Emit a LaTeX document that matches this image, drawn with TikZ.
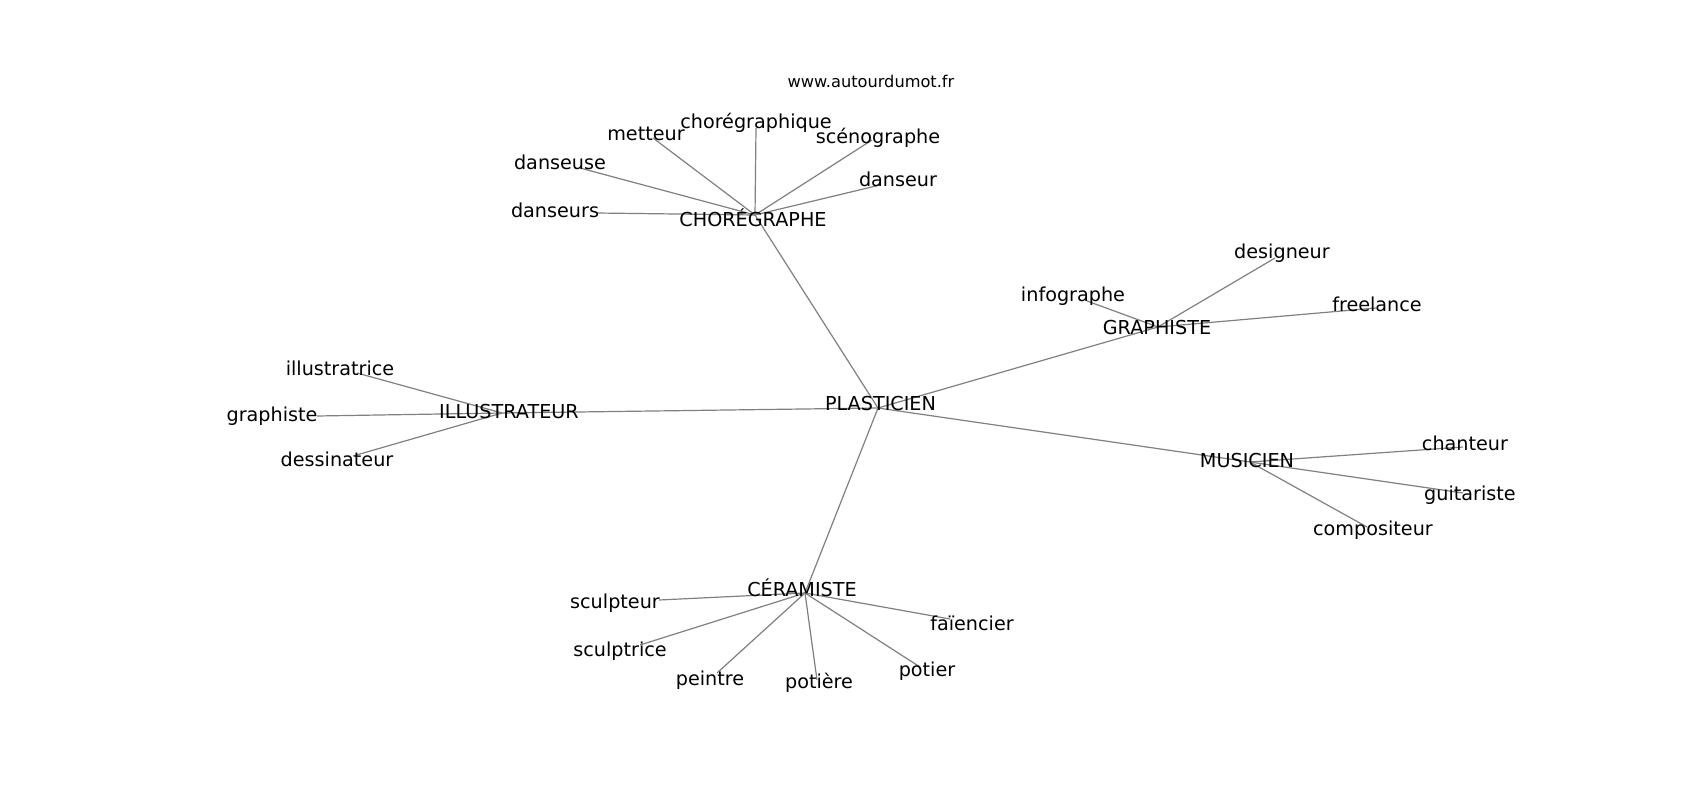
\documentclass[tikz,border=0pt]{standalone}
\usepackage{fontspec}
\setmainfont{DejaVu Sans}
\begin{document}
\begin{tikzpicture}[x=1pt,y=-1pt,
  lbl/.style={anchor=base,inner sep=0pt,font=\fontsize{19.2}{22}\selectfont,text=black},
  web/.style={anchor=base,inner sep=0pt,font=\fontsize{16.2}{19}\selectfont,text=black},
  edge/.style={draw=gray,line width=1.2pt}]
\useasboundingbox[fill=white] (0,0) rectangle (1700,800);
% hub and leaf points
\coordinate (cho) at (755,215);
\coordinate (ill) at (502,413);
\coordinate (pla) at (878,408);
\coordinate (gra) at (1158,327);
\coordinate (mus) at (1250,462);
\coordinate (cer) at (805,593);
\coordinate (pmet) at (653,138);
\coordinate (pchq) at (756,128);
\coordinate (psce) at (872,140);
\coordinate (pdse) at (580,168);
\coordinate (pdsr) at (880,185);
\coordinate (pdss) at (597,213);
\coordinate (pilt) at (357,373);
\coordinate (pgrp) at (317,416);
\coordinate (pdes) at (353,456);
\coordinate (pcha) at (1463,447);
\coordinate (pgui) at (1463,493);
\coordinate (pcom) at (1367,527);
\coordinate (pscu) at (659,600);
\coordinate (pscr) at (640,645);
\coordinate (ppei) at (717,673);
\coordinate (ppoe) at (817,680);
\coordinate (ppot) at (920,667);
\coordinate (pfai) at (950,619);
\coordinate (pinf) at (1087,301);
\coordinate (pdsg) at (1275,258);
\coordinate (pfre) at (1376,308);
% edges
\draw[edge] (pla) -- (cho);
\draw[edge] (pla) -- (ill);
\draw[edge] (pla) -- (gra);
\draw[edge] (pla) -- (mus);
\draw[edge] (pla) -- (cer);
\foreach \p in {pmet,pchq,psce,pdse,pdsr,pdss} \draw[edge] (cho) -- (\p);
\foreach \p in {pilt,pgrp,pdes} \draw[edge] (ill) -- (\p);
\foreach \p in {pcha,pgui,pcom} \draw[edge] (mus) -- (\p);
\foreach \p in {pscu,pscr,ppei,ppoe,ppot,pfai} \draw[edge] (cer) -- (\p);
\foreach \p in {pinf,pdsg,pfre} \draw[edge] (gra) -- (\p);
% labels
\node[web] (www) at (871,88) {www.autourdumot.fr};
\node[lbl] (lcho) at (753,226.7) {CHORÉGRAPHE};
\node[lbl] (ldss) at (555,217) {danseurs};
\node[lbl] (ldse) at (560,169) {danseuse};
\node[lbl] (lmet) at (646,140) {metteur};
\node[lbl] (lchq) at (756,128) {chorégraphique};
\node[lbl] (lsce) at (878,143) {scénographe};
\node[lbl] (ldsr) at (898,186) {danseur};
\node[lbl] (lilt) at (340,375) {illustratrice};
\node[lbl] (lgrp) at (272,421.7) {graphiste};
\node[lbl] (lill) at (509,418) {ILLUSTRATEUR};
\node[lbl] (ldes) at (337,466.7) {dessinateur};
\node[lbl] (lpla) at (880.5,410.7) {PLASTICIEN};
\node[lbl] (lgra) at (1157,334) {GRAPHISTE};
\node[lbl] (linf) at (1073,301.7) {infographe};
\node[lbl] (ldsg) at (1282,258) {designeur};
\node[lbl] (lfre) at (1377,311) {freelance};
\node[lbl] (lmus) at (1247,467) {MUSICIEN};
\node[lbl] (lcha) at (1465,450.7) {chanteur};
\node[lbl] (lgui) at (1470,500.7) {guitariste};
\node[lbl] (lcom) at (1373,535) {compositeur};
\node[lbl] (lcer) at (802,596) {CÉRAMISTE};
\node[lbl] (lscu) at (615,608) {sculpteur};
\node[lbl] (lscr) at (620,656.7) {sculptrice};
\node[lbl] (lpei) at (710,685) {peintre};
\node[lbl] (lpoe) at (819,688) {potière};
\node[lbl] (lpot) at (927,676.7) {potier};
\node[lbl] (lfai) at (972,630) {faïencier};
\end{tikzpicture}
\end{document}
